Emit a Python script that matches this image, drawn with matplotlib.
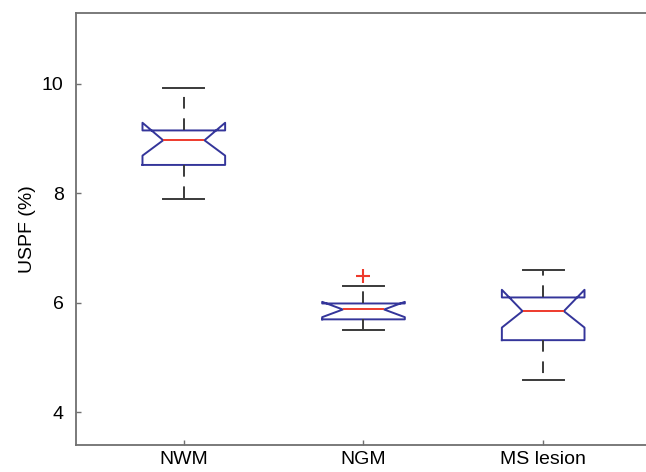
import matplotlib
matplotlib.use("Agg")
import matplotlib.pyplot as plt

plt.rcParams['font.family'] = ['Liberation Sans', 'DejaVu Sans']

# groups and box statistics
groups = ["NWM", "NGM", "MS lesion"]
medians = [8.97, 5.88, 5.85]
q1 = [8.52, 5.70, 5.32]
q3 = [9.15, 5.99, 6.10]
whis_lo = [7.89, 5.50, 4.59]
whis_hi = [9.93, 6.30, 6.60]
notch_lo = [8.69, 5.74, 5.55]
notch_hi = [9.29, 6.02, 6.24]
outliers = [[], [6.50], []]

stats = []
for i in range(len(groups)):
    stats.append(dict(label=groups[i], med=medians[i], q1=q1[i], q3=q3[i],
                      whislo=whis_lo[i], whishi=whis_hi[i],
                      cilo=notch_lo[i], cihi=notch_hi[i], fliers=outliers[i]))

fig = plt.figure(figsize=(6.46, 4.72), dpi=100)
ax = fig.add_axes([76/646, 1 - 445.3/472, 575/646, (445.3 - 12.7)/472])

blue = '#34359a'
red = '#ee3a2c'
dark = '#3a3a3a'

ax.bxp(stats, positions=[1, 2, 3], widths=0.46, shownotches=True,
       boxprops=dict(color=blue, linewidth=1.4),
       medianprops=dict(color=red, linewidth=1.4),
       whiskerprops=dict(color=dark, linewidth=1.4, linestyle=(0, (6, 5))),
       capprops=dict(color=dark, linewidth=1.4),
       flierprops=dict(marker='+', markeredgecolor=red, markersize=10,
                       markeredgewidth=1.5, linestyle='none'))

ax.set_xlim(0.4, 3.6)
ax.set_ylim(3.4, 11.3)
ax.set_yticks([4, 6, 8, 10])
ax.set_xticks([1, 2, 3])
ax.set_xticklabels(groups)
ax.set_ylabel("USPF (%)", fontsize=14, labelpad=4)

for sp in ax.spines.values():
    sp.set_color('#707070')
    sp.set_linewidth(1.3)
ax.tick_params(direction='in', length=3.5, width=1, color='#707070',
               labelsize=14, right=True)
ax.tick_params(axis='y', pad=9)
ax.tick_params(axis='x', pad=4)

fig.savefig("out.png", dpi=100)
